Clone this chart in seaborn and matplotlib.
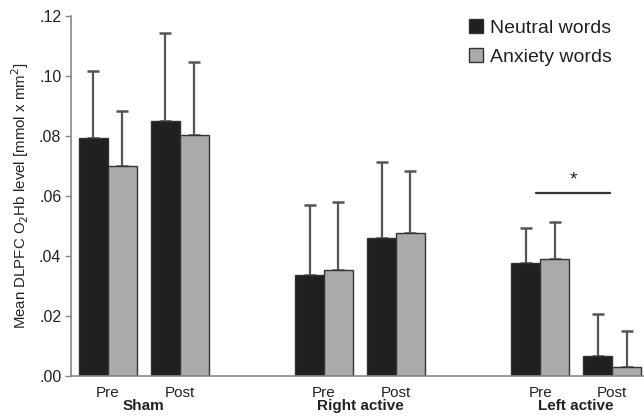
import matplotlib
matplotlib.use("Agg")
import matplotlib.pyplot as plt
import seaborn as sns
import pandas as pd
import numpy as np

# Group / session layout (empty slots keep space between stimulation groups)
slots = ["Sham Pre", "Sham Post", "gap1", "Right Pre", "Right Post", "gap2", "Left Pre", "Left Post"]
sessions = ["Sham Pre", "Sham Post", "Right Pre", "Right Post", "Left Pre", "Left Post"]
session_ticks = ["Pre", "Post", "", "Pre", "Post", "", "Pre", "Post"]
group_names = ["Sham", "Right active", "Left active"]
word_types = ["Neutral words", "Anxiety words"]

# Mean O2Hb level and upper SD per session
neutral_mean = [0.0793, 0.0850, 0.0337, 0.0461, 0.0378, 0.0067]
anxiety_mean = [0.0700, 0.0803, 0.0353, 0.0476, 0.0389, 0.0031]
neutral_sd = [0.0224, 0.0293, 0.0232, 0.0253, 0.0115, 0.0140]
anxiety_sd = [0.0183, 0.0244, 0.0228, 0.0207, 0.0126, 0.0120]

df = pd.DataFrame({
    "session": sessions * 2,
    "words": [word_types[0]] * 6 + [word_types[1]] * 6,
    "mean": neutral_mean + anxiety_mean,
    "sd": neutral_sd + anxiety_sd,
})

sns.set_theme(style="white")
plt.rcParams["font.family"] = ["Liberation Sans", "DejaVu Sans"]

fig = plt.figure(figsize=(6.44, 4.17), dpi=100)
ax = fig.add_axes([71 / 644, 41 / 417, 1 - 71 / 644, 360 / 417])

sns.barplot(
    data=df, x="session", y="mean", hue="words", order=slots, hue_order=word_types,
    palette=["#1e2022", "#a8aaac"], edgecolor="#333333", linewidth=1.0,
    errorbar=None, width=0.8, ax=ax, zorder=2,
)

# Upper-only error bars taken from the drawn bars
rects = [p for p in ax.patches if p.get_height() > 0]
lookup = {(round(m, 5)): s for m, s in zip(df["mean"], df["sd"])}
xs, hs, es = [], [], []
for r in rects:
    h = r.get_height()
    key = round(h, 5)
    if key in lookup:
        xs.append(r.get_x() + r.get_width() / 2)
        hs.append(h)
        es.append(lookup[key])
ax.errorbar(xs, hs, yerr=[np.zeros(len(es)), es], fmt="none", ecolor="#555555",
            elinewidth=1.6, capsize=4.5, capthick=1.8, zorder=1)

ax.set_ylim(0, 0.12)
ax.set_xlim(-0.51, 7.44)
yt = np.arange(0, 0.121, 0.02)
ax.set_yticks(yt)
ax.set_yticklabels([f"{v:.2f}"[1:] for v in yt], fontsize=11.5, color="#222222")
ax.set_xticks(range(len(slots)))
ax.set_xticklabels(session_ticks, fontsize=11, color="#222222")
ax.tick_params(axis="y", left=True, length=4, width=1, color="#888888", pad=3)
ax.tick_params(axis="x", bottom=False, pad=1.5)
ax.set_xlabel("")
ax.set_ylabel("Mean DLPFC O$_2$Hb level [mmol x mm$^2$]", fontsize=10.8, color="#222222", labelpad=6)

for side in ["top", "right"]:
    ax.spines[side].set_visible(False)
for side in ["left", "bottom"]:
    ax.spines[side].set_color("#888888")
    ax.spines[side].set_linewidth(1.2)

# Group labels under each Pre/Post pair
for i, name in enumerate(group_names):
    ax.annotate(name, xy=(3 * i + 0.5, 0), xycoords=("data", "axes fraction"),
                xytext=(0, -23), textcoords="offset pixels", ha="center", va="top",
                fontsize=11, fontweight="bold", color="#222222", annotation_clip=False)

# Significance marker for the left active group
ax.plot([5.94, 6.97], [0.061, 0.061], color="#333333", lw=1.6, zorder=3)
ax.text(6.455, 0.0625, "*", ha="center", va="bottom", fontsize=14, color="#222222")

leg = ax.legend(frameon=False, loc="upper right", bbox_to_anchor=(0.975, 1.04),
                fontsize=14, handlelength=0.75, handleheight=0.75, handletextpad=0.35,
                labelspacing=0.55)
for t in leg.get_texts():
    t.set_color("#222222")

fig.savefig("out.png", dpi=100)
